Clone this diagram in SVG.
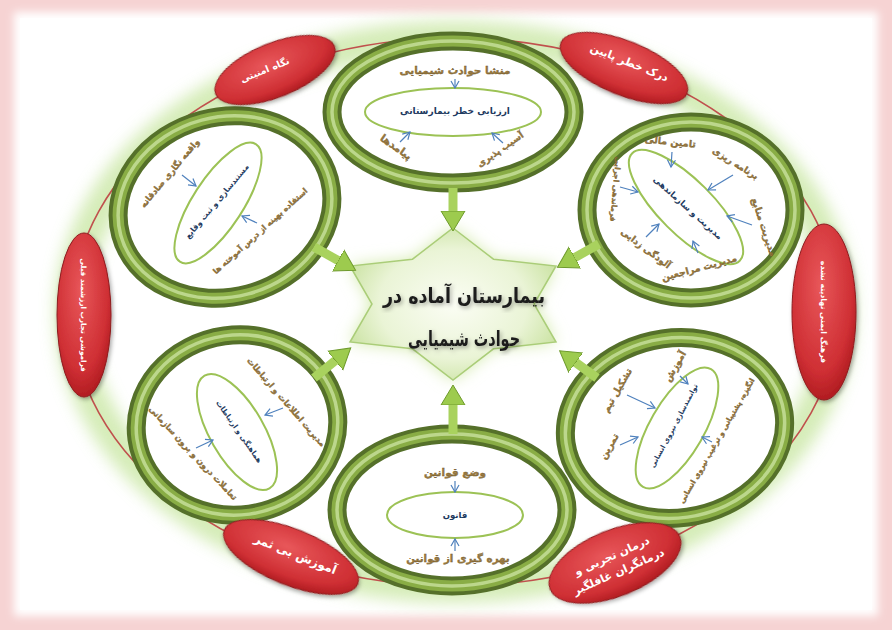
<svg xmlns="http://www.w3.org/2000/svg" width="892" height="630" viewBox="0 0 892 630">
<defs>
<style>
.ro{fill:none;stroke:#55702a;stroke-width:19}
.rm{fill:none;stroke:#89ad45;stroke-width:11}
.rh{fill:none;stroke:#bcd78c;stroke-width:3.5}
.rf{fill:#ffffff}
.inner{fill:none;stroke:#9cc255;stroke-width:2}
.tb{font-family:'DejaVu Sans',sans-serif;font-weight:bold;font-size:9px;fill:#9a7a3f;text-anchor:middle;stroke:#6b5226;stroke-width:0.3}
.tn{font-family:'DejaVu Sans',sans-serif;font-weight:bold;font-size:8px;fill:#1e3a60;text-anchor:middle}
.tw{font-family:'DejaVu Sans',sans-serif;font-weight:bold;font-size:11px;fill:#ffffff;text-anchor:middle}
.tc{font-family:'DejaVu Sans',sans-serif;font-weight:bold;font-size:21px;fill:#1a1a1a;text-anchor:middle}
.red{fill:url(#redG);stroke:#8e1c1f;stroke-width:1}
.blue{fill:none;stroke:#4f81bd;stroke-width:1.2;marker-end:url(#bA)}
.gline{fill:none;stroke:#a9d25e;stroke-width:9;marker-end:url(#gA)}
</style>
<radialGradient id="redG" cx="0.45" cy="0.35" r="0.7">
<stop offset="0" stop-color="#e8575a"/>
<stop offset="0.7" stop-color="#cf2f34"/>
<stop offset="1" stop-color="#a8171c"/>
</radialGradient>
<radialGradient id="starG" cx="0.5" cy="0.5" r="0.6">
<stop offset="0" stop-color="#fbfdf4"/>
<stop offset="0.6" stop-color="#eaf4d6"/>
<stop offset="1" stop-color="#c4df98"/>
</radialGradient>
<filter id="blur8" x="-20%" y="-20%" width="140%" height="140%"><feGaussianBlur stdDeviation="8"/></filter>
<filter id="blur4" x="-20%" y="-20%" width="140%" height="140%"><feGaussianBlur stdDeviation="4"/></filter>
<filter id="sh" x="-20%" y="-20%" width="140%" height="140%"><feDropShadow dx="1.5" dy="2" stdDeviation="2" flood-color="#000" flood-opacity="0.35"/></filter>
<marker id="bA" markerUnits="userSpaceOnUse" markerWidth="10" markerHeight="10" refX="8" refY="5" orient="auto"><path d="M1,1 L8,5 L1,9" fill="none" stroke="#4f81bd" stroke-width="1.2"/></marker>
<marker id="gA" markerUnits="userSpaceOnUse" markerWidth="22" markerHeight="26" refX="1" refY="13" orient="auto"><path d="M0,1 L20,13 L0,25 Z" fill="#9dcb4e" stroke="#6e9a2c" stroke-width="1"/></marker>
</defs>

<g id="background">
<rect x="0" y="0" width="892" height="630" fill="#f6d3d3"/>
<rect x="14" y="12" width="864" height="604" fill="#ffffff" filter="url(#blur4)"/>
<rect x="20" y="18" width="852" height="592" fill="#ffffff"/>
</g>

<g id="outline">
<ellipse cx="455" cy="312" rx="383" ry="274" fill="none" stroke="#c7e6a0" stroke-width="34" opacity="0.75" filter="url(#blur8)"/>
<ellipse cx="455" cy="312" rx="383" ry="274" fill="none" stroke="#c0504d" stroke-width="1.6"/>
</g>

<g id="ring-top">
<ellipse class="rf" cx="453" cy="112" rx="121" ry="71" filter="url(#sh)"/>
<ellipse class="ro" cx="453" cy="112" rx="121" ry="71"/>
<ellipse class="rm" cx="453" cy="112" rx="121" ry="71"/>
<ellipse class="rh" cx="453" cy="112" rx="121" ry="71"/>
<ellipse class="inner" cx="453" cy="112" rx="88" ry="24"/>
<text class="tb" x="455" y="74" style="font-size:10.5px">منشا حوادث شیمیایی</text>
<text class="tn" x="455" y="114" style="font-size:9px">ارزیابی خطر بیمارستانی</text>
<text class="tb" style="font-size:10.5px" transform="translate(394,150) rotate(35)">پیامدها</text>
<text class="tb" style="font-size:9px" transform="translate(502,152) rotate(-35)">آسیب پذیری</text>
</g>

<g id="ring-upper-right">
<ellipse class="rf" cx="691" cy="210" rx="104" ry="88" filter="url(#sh)"/>
<ellipse class="ro" cx="691" cy="210" rx="104" ry="88"/>
<ellipse class="rm" cx="691" cy="210" rx="104" ry="88"/>
<ellipse class="rh" cx="691" cy="210" rx="104" ry="88"/>
<ellipse class="inner" cx="686" cy="207" rx="76" ry="27" transform="rotate(45 686 207)"/>
<text class="tn" style="font-size:8.5px" transform="translate(686,210) rotate(42)">مدیریت و سازماندهی</text>
<text class="tb" style="font-size:9.5px" transform="translate(670,145) rotate(6)">تامین مالی</text>
<text class="tb" style="font-size:9px" transform="translate(734,166) rotate(32)">برنامه ریزی</text>
<text class="tb" style="font-size:9.5px" transform="translate(761,228) rotate(72)">مدیریت منابع</text>
<text class="tb" style="font-size:9.5px" transform="translate(700,271) rotate(-15)">مدیریت مراجعین</text>
<text class="tb" style="font-size:9px" transform="translate(644,251) rotate(37)">آلودگی زدایی</text>
<text class="tb" style="font-size:7.5px" transform="translate(613,189) rotate(95)">فرماندهی اجرایی</text>
</g>

<g id="ring-upper-left">
<ellipse class="rf" cx="225" cy="207" rx="108" ry="90" filter="url(#sh)" transform="rotate(-15 225 207)"/>
<ellipse class="ro" cx="225" cy="207" rx="108" ry="90" transform="rotate(-15 225 207)"/>
<ellipse class="rm" cx="225" cy="207" rx="108" ry="90" transform="rotate(-15 225 207)"/>
<ellipse class="rh" cx="225" cy="207" rx="108" ry="90" transform="rotate(-15 225 207)"/>
<ellipse class="inner" cx="218" cy="203" rx="70" ry="25" transform="rotate(-57 218 203)"/>
<text class="tn" style="font-size:7.8px" transform="translate(219,203) rotate(-50)">مستندسازی و ثبت وقایع</text>
<text class="tb" style="font-size:8.5px" transform="translate(172,175) rotate(-50)">واقعه نگاری صادقانه</text>
<text class="tb" style="font-size:7.8px" transform="translate(262,233) rotate(-42)">استفاده بهینه از درس آموخته ها</text>
</g>

<g id="ring-lower-left">
<ellipse class="rf" cx="237" cy="425" rx="101" ry="90" filter="url(#sh)" transform="rotate(-8 237 425)"/>
<ellipse class="ro" cx="237" cy="425" rx="101" ry="90" transform="rotate(-8 237 425)"/>
<ellipse class="rm" cx="237" cy="425" rx="101" ry="90" transform="rotate(-8 237 425)"/>
<ellipse class="rh" cx="237" cy="425" rx="101" ry="90" transform="rotate(-8 237 425)"/>
<ellipse class="inner" cx="237" cy="432" rx="65" ry="27" transform="rotate(60 237 432)"/>
<text class="tn" style="font-size:7.3px" transform="translate(237,433) rotate(55)">هماهنگی و ارتباطات</text>
<text class="tb" style="font-size:8.3px" transform="translate(284,404) rotate(49)">مدیریت اطلاعات و ارتباطات</text>
<text class="tb" style="font-size:8.3px" transform="translate(191,455) rotate(47)">تعاملات درون و برون سازمانی</text>
</g>

<g id="ring-lower-right">
<ellipse class="rf" cx="675" cy="428" rx="110" ry="90" filter="url(#sh)" transform="rotate(-8 675 428)"/>
<ellipse class="ro" cx="675" cy="428" rx="110" ry="90" transform="rotate(-8 675 428)"/>
<ellipse class="rm" cx="675" cy="428" rx="110" ry="90" transform="rotate(-8 675 428)"/>
<ellipse class="rh" cx="675" cy="428" rx="110" ry="90" transform="rotate(-8 675 428)"/>
<ellipse class="inner" cx="677" cy="428" rx="68" ry="27" transform="rotate(-60 677 428)"/>
<text class="tn" style="font-size:7px" transform="translate(676,427) rotate(-62)">توانمندسازی نیروی انسانی</text>
<text class="tb" style="font-size:9.5px" transform="translate(678,368) rotate(-60)">آموزش</text>
<text class="tb" style="font-size:9.5px" transform="translate(620,392) rotate(-60)">تشکیل تیم</text>
<text class="tb" style="font-size:9.5px" transform="translate(612,448) rotate(-60)">تمرین</text>
<text class="tb" style="font-size:7.3px" transform="translate(719,442) rotate(-60)">انگیزه، پشتیبانی و ترغیب نیروی انسانی</text>
</g>

<g id="ring-bottom">
<ellipse class="rf" cx="452" cy="510" rx="115" ry="76" filter="url(#sh)"/>
<ellipse class="ro" cx="452" cy="510" rx="115" ry="76"/>
<ellipse class="rm" cx="452" cy="510" rx="115" ry="76"/>
<ellipse class="rh" cx="452" cy="510" rx="115" ry="76"/>
<ellipse class="inner" cx="455" cy="515" rx="68" ry="23"/>
<text class="tn" x="455" y="518" style="font-size:8.5px">قانون</text>
<text class="tb" x="455" y="476" style="font-size:10.5px">وضع قوانین</text>
<text class="tb" x="458" y="562" style="font-size:10.3px">بهره گیری از قوانین</text>
</g>

<g id="star">
<path d="M453,228 L493.5,259.2 L556,266 L534,304 L556,342 L493.5,348.8 L453,380 L412.5,348.8 L350,342 L372,304 L350,266 L412.5,259.2 Z" fill="#d3eaac" filter="url(#blur8)"/>
<path d="M453,228 L493.5,259.2 L556,266 L534,304 L556,342 L493.5,348.8 L453,380 L412.5,348.8 L350,342 L372,304 L350,266 L412.5,259.2 Z" fill="url(#starG)" stroke="#aacd78" stroke-width="1.5"/>
<text class="tc" x="464" y="303" textLength="162" lengthAdjust="spacingAndGlyphs" filter="url(#sh)">بیمارستان آماده در</text>
<text class="tc" x="464" y="346" textLength="112" lengthAdjust="spacingAndGlyphs" filter="url(#sh)">حوادث شیمیایی</text>
</g>

<g id="risk-security">
<ellipse class="red" cx="275" cy="70" rx="64" ry="27" transform="rotate(-22 275 70)" filter="url(#sh)"/>
<text class="tw" style="font-size:9.5px" transform="translate(266,73) rotate(-22)">نگاه امنیتی</text>
</g>
<g id="risk-low-perception">
<ellipse class="red" cx="624" cy="68" rx="68" ry="27" transform="rotate(22 624 68)" filter="url(#sh)"/>
<text class="tw" transform="translate(628,66) rotate(22)">درک خطر پایین</text>
</g>
<g id="risk-forgetting">
<ellipse class="red" cx="84" cy="315" rx="27" ry="82" filter="url(#sh)"/>
<text class="tw" style="font-size:7.3px" transform="translate(81,315) rotate(90)">فراموشی تجارب ارزشمند قبلی</text>
</g>
<g id="risk-culture">
<ellipse class="red" cx="824" cy="312" rx="32" ry="88" filter="url(#sh)"/>
<text class="tw" style="font-size:7.8px" transform="translate(821,312) rotate(90)">فرهنگ ایمنی نهادینه نشده</text>
</g>
<g id="risk-training">
<ellipse class="red" cx="291" cy="557" rx="72" ry="28" transform="rotate(22 291 557)" filter="url(#sh)"/>
<text class="tw" style="font-size:12px" transform="translate(294,558) rotate(22)">آموزش بی ثمر</text>
</g>
<g id="risk-treatment">
<ellipse class="red" cx="615" cy="563" rx="70" ry="33" transform="rotate(-22 615 563)" filter="url(#sh)"/>
<text class="tw" transform="translate(615,563) rotate(-24)"><tspan x="0" y="-4">درمان تجربی و</tspan><tspan x="0" y="13">درمانگران غافلگیر</tspan></text>
</g>

<g id="connectors">
<path class="gline" d="M453,188 L453,212"/>
<path class="gline" d="M453,434 L453,404"/>
<path class="gline" d="M314,247 L339,261"/>
<path class="gline" d="M599,244 L574,258"/>
<path class="gline" d="M314,378 L336,360"/>
<path class="gline" d="M597,378 L575,362"/>
<path class="blue" d="M455,79 L455,88"/>
<path class="blue" d="M400,142 L410,132"/>
<path class="blue" d="M503,143 L492,133"/>
<path class="blue" d="M672,152 L671,167"/>
<path class="blue" d="M733,175 L708,190"/>
<path class="blue" d="M752,225 L727,216"/>
<path class="blue" d="M698,253 L693,241"/>
<path class="blue" d="M646,237 L659,224"/>
<path class="blue" d="M620,187 L638,192"/>
<path class="blue" d="M182,175 L196,186"/>
<path class="blue" d="M257,223 L242,216"/>
<path class="blue" d="M283,408 L265,415"/>
<path class="blue" d="M196,448 L213,440"/>
<path class="blue" d="M680,376 L688,384"/>
<path class="blue" d="M627,395 L655,408"/>
<path class="blue" d="M620,445 L638,437"/>
<path class="blue" d="M712,442 L702,437"/>
<path class="blue" d="M455,481 L455,492"/>
<path class="blue" d="M455,551 L455,539"/>
</g>
</svg>
